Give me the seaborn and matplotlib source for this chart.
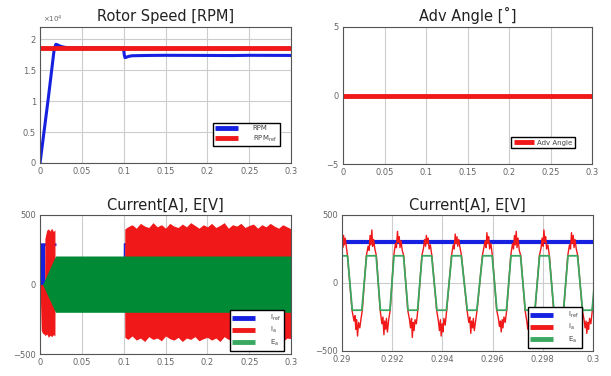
import matplotlib
matplotlib.use("Agg")
import matplotlib.pyplot as plt
from matplotlib.ticker import FuncFormatter
import seaborn as sns

# ─── Data ────────────────────────────────────────────────────────────────────

# Rotor speed (top left)
rpm_t = [0.0, 0.002, 0.010, 0.017, 0.019, 0.021, 0.025, 0.030, 0.040, 0.0999,
         0.1005, 0.1015, 0.103, 0.106, 0.110, 0.130, 0.150, 0.200, 0.230, 0.250, 0.300]
rpm = [0, 2100, 10600, 18500, 19200, 19100, 18850, 18700, 18620, 18600,
       17600, 17050, 17100, 17250, 17350, 17400, 17420, 17400, 17380, 17420, 17400]
rpm_ref_t = [0.0, 0.3]
rpm_ref = [18600, 18600]

# Advance angle (top right)
adv_t = [0.0, 0.3]
adv_angle = [0, 0]

# Current / back-EMF envelopes over the whole run (bottom left)
env_iref_t = [0.0, 0.0055, 0.0056, 0.0190, 0.0192, 0.0993, 0.0995, 0.1015, 0.1017, 0.3]
env_iref_hi = [300, 300, 300, 300, 150, 150, 300, 300, 300, 300]
env_iref_lo = [0, 0, 280, 280, 150, 150, 200, 200, 280, 280]

env_ia_t = [0.0, 0.0015, 0.003, 0.0055, 0.0058, 0.008, 0.010, 0.012, 0.014, 0.016,
            0.0178, 0.0180, 0.1010, 0.1013, 0.105, 0.110, 0.115, 0.120, 0.125, 0.130,
            0.135, 0.140, 0.145, 0.150, 0.155, 0.160, 0.165, 0.170, 0.175, 0.180,
            0.185, 0.190, 0.195, 0.200, 0.205, 0.210, 0.215, 0.220, 0.225, 0.230,
            0.235, 0.240, 0.245, 0.250, 0.255, 0.260, 0.265, 0.270, 0.275, 0.280,
            0.285, 0.290, 0.295, 0.300]
env_ia_hi = [0, 0, 0, 0, 330, 390, 400, 385, 405, 380,
             395, 0, 0, 400, 415, 430, 405, 440, 420, 410,
             445, 415, 430, 405, 440, 420, 410, 435, 415, 445,
             425, 405, 430, 415, 440, 410, 425, 445, 405, 430,
             420, 440, 410, 425, 435, 405, 430, 415, 440, 420,
             405, 430, 415, 400]
env_ia_lo = [0, -330, -350, -360, -370, -355, -380, -365, -375, -360,
             -370, 0, 0, -380, -395, -370, -400, -385, -410, -375,
             -395, -385, -405, -370, -390, -400, -380, -410, -385, -395,
             -375, -405, -390, -380, -400, -385, -410, -375, -395, -390,
             -405, -380, -395, -410, -385, -375, -400, -390, -405, -380,
             -395, -410, -385, -390]

env_ea_t = [0.0, 0.003, 0.0185, 0.3]
env_ea_hi = [0, 0, 205, 205]
env_ea_lo = [0, 0, -200, -200]

# Zoomed waveforms 0.29 - 0.30 s (bottom right)
iref_t = [0.29, 0.30]
iref = [300, 300]

ea_t = [0.28984, 0.29022, 0.29041, 0.29079, 0.29098, 0.29136, 0.29153, 0.29191,
        0.29207, 0.29245, 0.29263, 0.29301, 0.29319, 0.29357, 0.29378, 0.29416,
        0.29437, 0.29475, 0.29499, 0.29537, 0.29560, 0.29598, 0.29617, 0.29655,
        0.29673, 0.29711, 0.29730, 0.29768, 0.29787, 0.29825, 0.29844, 0.29882,
        0.29900, 0.29938, 0.29958, 0.29996, 0.30015]
ea = [200, 200, -200, -200, 200, 200, -200, -200,
      200, 200, -200, -200, 200, 200, -200, -200,
      200, 200, -200, -200, 200, 200, -200, -200,
      200, 200, -200, -200, 200, 200, -200, -200,
      200, 200, -200, -200, 200]

ia_t = [0.29000, 0.29003, 0.29006, 0.29009, 0.29013, 0.29017, 0.29022,
        0.29040, 0.29048, 0.29052, 0.29055, 0.29058, 0.29062, 0.29066, 0.29071, 0.29076, 0.29081,
        0.29097, 0.29104, 0.29108, 0.29112, 0.29115, 0.29119, 0.29122, 0.29126, 0.29131, 0.29137,
        0.29152, 0.29159, 0.29163, 0.29167, 0.29170, 0.29174, 0.29177, 0.29181, 0.29186, 0.29192,
        0.29206, 0.29213, 0.29217, 0.29221, 0.29224, 0.29228, 0.29231, 0.29235, 0.29240, 0.29246,
        0.29262, 0.29269, 0.29273, 0.29277, 0.29280, 0.29284, 0.29287, 0.29291, 0.29296, 0.29302,
        0.29318, 0.29325, 0.29329, 0.29333, 0.29336, 0.29340, 0.29343, 0.29347, 0.29352, 0.29358,
        0.29377, 0.29384, 0.29388, 0.29392, 0.29395, 0.29399, 0.29402, 0.29406, 0.29411, 0.29417,
        0.29436, 0.29443, 0.29447, 0.29451, 0.29454, 0.29458, 0.29461, 0.29465, 0.29470, 0.29476,
        0.29498, 0.29505, 0.29509, 0.29513, 0.29516, 0.29520, 0.29523, 0.29527, 0.29532, 0.29538,
        0.29559, 0.29566, 0.29570, 0.29574, 0.29577, 0.29581, 0.29584, 0.29588, 0.29593, 0.29599,
        0.29616, 0.29623, 0.29627, 0.29631, 0.29634, 0.29638, 0.29641, 0.29645, 0.29650, 0.29656,
        0.29672, 0.29679, 0.29683, 0.29687, 0.29690, 0.29694, 0.29697, 0.29701, 0.29706, 0.29712,
        0.29729, 0.29736, 0.29740, 0.29744, 0.29747, 0.29751, 0.29754, 0.29758, 0.29763, 0.29769,
        0.29786, 0.29793, 0.29797, 0.29801, 0.29804, 0.29808, 0.29811, 0.29815, 0.29820, 0.29826,
        0.29843, 0.29850, 0.29854, 0.29858, 0.29861, 0.29865, 0.29868, 0.29872, 0.29877, 0.29883,
        0.29899, 0.29906, 0.29910, 0.29914, 0.29917, 0.29921, 0.29924, 0.29928, 0.29933, 0.29939,
        0.29957, 0.29964, 0.29968, 0.29972, 0.29975, 0.29979, 0.29982, 0.29986, 0.29991, 0.29997,
        0.30000]
ia = [320, 260, 350, 280, 330, 270, 200,
      -200, -280, -240, -340, -270, -390, -290, -330, -260, -200,
      200, 270, 240, 350, 280, 390, 270, 320, 250, 200,
      -200, -300, -250, -380, -280, -340, -260, -360, -270, -200,
      200, 290, 260, 380, 300, 340, 260, 310, 240, 200,
      -200, -270, -330, -260, -400, -290, -350, -270, -300, -200,
      200, 260, 320, 270, 350, 290, 330, 250, 280, 200,
      -200, -280, -350, -270, -390, -300, -360, -260, -310, -200,
      200, 280, 250, 360, 290, 340, 270, 320, 260, 200,
      -200, -290, -250, -370, -280, -330, -260, -350, -280, -200,
      200, 270, 310, 260, 370, 290, 340, 250, 290, 200,
      -200, -260, -320, -280, -360, -270, -330, -250, -290, -200,
      200, 290, 250, 350, 280, 380, 260, 330, 240, 200,
      -200, -280, -340, -260, -380, -290, -350, -270, -300, -200,
      200, 260, 330, 270, 390, 300, 340, 250, 280, 200,
      -200, -290, -260, -360, -280, -330, -250, -340, -270, -200,
      200, 280, 250, 370, 290, 350, 260, 320, 250, 200,
      -200, -270, -330, -280, -370, -290, -340, -260, -300, -200,
      -130]

BLUE = "#1520e0"
RED = "#f01818"
GREEN = "#008a35"
GREEN_LINE = "#3aa860"

# ─── Styling ─────────────────────────────────────────────────────────────────

sns.set_style("white")
plt.rcParams["font.family"] = ["DejaVu Sans"]

fig = plt.figure(figsize=(6.11, 3.76), dpi=100)
ax_tl = fig.add_axes([0.0655, 0.5665, 0.411, 0.3617])
ax_tr = fig.add_axes([0.5614, 0.5638, 0.4075, 0.3644])
ax_bl = fig.add_axes([0.0655, 0.0585, 0.411, 0.3697])
ax_br = fig.add_axes([0.5597, 0.0665, 0.411, 0.3617])

fmt_g = FuncFormatter(lambda v, _: f"{v:g}")


def _style(ax, title):
    ax.set_title(title, fontsize=10.5, color="#222222", pad=4)
    ax.grid(True, color="#cccccc", linewidth=0.8)
    ax.set_axisbelow(True)
    for s in ax.spines.values():
        s.set_color("#555555")
        s.set_linewidth(0.8)
    ax.tick_params(labelsize=6, labelcolor="#666666", length=0, pad=3)
    ax.xaxis.set_major_formatter(fmt_g)
    ax.set_xlabel("")
    ax.set_ylabel("")


def _legend(ax, anchor, handlelength=3.2, textpad=2.2):
    leg = ax.legend(loc="lower right", bbox_to_anchor=anchor, fontsize=5,
                    frameon=True, fancybox=False, edgecolor="black",
                    framealpha=1, handlelength=handlelength, borderpad=0.4,
                    labelspacing=0.3, handletextpad=textpad)
    leg.get_frame().set_linewidth(1.0)
    for txt in leg.get_texts():
        txt.set_color("#444444")
    for line in leg.get_lines():
        line.set_linewidth(3.5)
        line.set_solid_capstyle("butt")
    return leg


# ─── Top left: rotor speed ───────────────────────────────────────────────────

sns.lineplot(x=rpm_t, y=rpm, ax=ax_tl, color=BLUE, linewidth=2.2,
             estimator=None, sort=False, label="RPM")
sns.lineplot(x=rpm_ref_t, y=rpm_ref, ax=ax_tl, color=RED, linewidth=3.5,
             estimator=None, sort=False, label=r"RPM$_{\mathrm{ref}}$")
ax_tl.set_xlim(0, 0.3)
ax_tl.set_ylim(0, 22000)
ax_tl.set_xticks([0, 0.05, 0.1, 0.15, 0.2, 0.25, 0.3])
ax_tl.set_yticks([0, 5000, 10000, 15000, 20000])
_style(ax_tl, "Rotor Speed [RPM]")
ax_tl.yaxis.set_major_formatter(FuncFormatter(lambda v, _: f"{v / 1e4:g}"))
ax_tl.text(0.01, 1.015, r"$\times10^4$", transform=ax_tl.transAxes,
           fontsize=5, color="#666666", ha="left", va="bottom")
_legend(ax_tl, (0.968, 0.096))

# ─── Top right: advance angle ────────────────────────────────────────────────

sns.lineplot(x=adv_t, y=adv_angle, ax=ax_tr, color=RED, linewidth=3.5,
             estimator=None, sort=False, label="Adv Angle")
ax_tr.set_xlim(0, 0.3)
ax_tr.set_ylim(-5, 5)
ax_tr.set_xticks([0, 0.05, 0.1, 0.15, 0.2, 0.25, 0.3])
ax_tr.set_yticks([-5, 0, 5])
_style(ax_tr, "Adv Angle [˚]")
_legend(ax_tr, (0.944, 0.088), handlelength=3.0, textpad=0.3)

# ─── Bottom left: currents and back-EMF over the whole run ───────────────────

ax_bl.fill_between(env_iref_t, env_iref_lo, env_iref_hi, color=BLUE, linewidth=0)
ax_bl.fill_between(env_ia_t, env_ia_lo, env_ia_hi, color=RED, linewidth=0)
ax_bl.fill_between(env_ea_t, env_ea_lo, env_ea_hi, color=GREEN, linewidth=0)
sns.lineplot(x=[None], y=[None], ax=ax_bl, color=BLUE, label=r"I$_{\mathrm{ref}}$")
sns.lineplot(x=[None], y=[None], ax=ax_bl, color=RED, label=r"I$_{\mathrm{a}}$")
sns.lineplot(x=[None], y=[None], ax=ax_bl, color=GREEN_LINE, label=r"E$_{\mathrm{a}}$")
ax_bl.set_xlim(0, 0.3)
ax_bl.set_ylim(-500, 500)
ax_bl.set_xticks([0, 0.05, 0.1, 0.15, 0.2, 0.25, 0.3])
ax_bl.set_yticks([-500, 0, 500])
_style(ax_bl, "Current[A], E[V]")
_legend(ax_bl, (0.984, 0.0))

# ─── Bottom right: zoomed waveforms ──────────────────────────────────────────

sns.lineplot(x=iref_t, y=iref, ax=ax_br, color=BLUE, linewidth=3.0,
             estimator=None, sort=False, label=r"I$_{\mathrm{ref}}$")
sns.lineplot(x=ia_t, y=ia, ax=ax_br, color=RED, linewidth=1.0,
             estimator=None, sort=False, label=r"I$_{\mathrm{a}}$")
sns.lineplot(x=ea_t, y=ea, ax=ax_br, color=GREEN_LINE, linewidth=1.3,
             estimator=None, sort=False, label=r"E$_{\mathrm{a}}$")
ax_br.set_xlim(0.29, 0.3)
ax_br.set_ylim(-500, 500)
ax_br.set_xticks([0.29, 0.292, 0.294, 0.296, 0.298, 0.3])
ax_br.set_yticks([-500, 0, 500])
_style(ax_br, "Current[A], E[V]")
_legend(ax_br, (0.968, 0.0))

fig.savefig("out.png", dpi=100, facecolor="white")
